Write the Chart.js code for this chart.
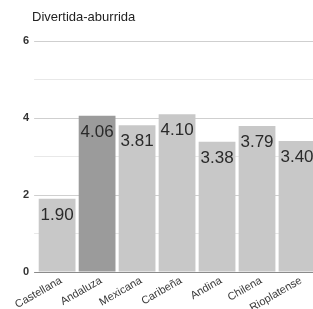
<!DOCTYPE html>
<html>
<head>
<meta charset="utf-8">
<script src="https://cdn.jsdelivr.net/npm/chart.js@4"></script>
<style>
  html, body { margin: 0; padding: 0; background: #fff; overflow: hidden; }
  #wrap { position: relative; width: 318px; height: 309px; }
  #title {
    position: absolute; left: 32px; top: 9px;
    font: 13px "Liberation Sans", Arial, sans-serif; color: #222;
  }
</style>
</head>
<body>
<div id="wrap">
  <div id="title">Divertida-aburrida</div>
  <canvas id="chart" width="318" height="309"></canvas>
</div>
<script>
// categories and values
const categories = ['Castellana', 'Andaluza', 'Mexicana', 'Caribeña', 'Andina', 'Chilena', 'Rioplatense'];
const values = [1.90, 4.06, 3.81, 4.10, 3.38, 3.79, 3.40];
const yTickLabels = [0, 2, 4, 6];

const barColors = categories.map(c => c === 'Andaluza' ? '#9b9b9b' : '#c8c8c8');

// draws the value at the top of each bar
const valueLabels = {
    id: 'valueLabels',
    afterDatasetsDraw(chart) {
        const ctx = chart.ctx;
        const meta = chart.getDatasetMeta(0);
        ctx.save();
        ctx.font = '17px "Liberation Sans", Arial, sans-serif';
        ctx.fillStyle = '#2a2a2a';
        ctx.textAlign = 'center';
        ctx.textBaseline = 'alphabetic';
        meta.data.forEach((bar, i) => {
            ctx.fillText(values[i].toFixed(2), bar.x, bar.y + 21);
        });
        ctx.restore();
    }
};

new Chart(document.getElementById('chart'), {
    type: 'bar',
    data: {
        labels: categories,
        datasets: [{
            data: values,
            backgroundColor: barColors,
            borderWidth: 0,
            barPercentage: 0.92,
            categoryPercentage: 1.0
        }]
    },
    options: {
        responsive: false,
        animation: false,
        layout: { padding: { left: 18, right: 1, top: 41, bottom: 0 } },
        plugins: {
            legend: { display: false },
            tooltip: { enabled: false },
            title: { display: false }
        },
        scales: {
            x: {
                grid: { display: false, drawTicks: false, tickLength: 0 },
                border: { display: false },
                afterFit: scale => { scale.height = 37; },
                ticks: {
                    color: '#3a3a3a',
                    font: { family: '"Liberation Sans", Arial, sans-serif', size: 11 },
                    minRotation: 30,
                    maxRotation: 30,
                    padding: 2,
                    labelOffset: 4,
                    autoSkip: false
                }
            },
            y: {
                min: 0,
                max: 6,
                border: { display: false },
                grid: {
                    tickLength: 3,
                    color: ctx => {
                        const v = ctx.tick ? ctx.tick.value : 0;
                        if (v === 0) return '#8a8a8a';
                        return yTickLabels.includes(v) ? '#cfcfcf' : '#e8e8e8';
                    },
                    lineWidth: 1
                },
                ticks: {
                    stepSize: 1,
                    padding: 5,
                    color: '#333',
                    font: { family: '"Liberation Sans", Arial, sans-serif', size: 11, weight: 'bold' },
                    callback: v => yTickLabels.includes(v) ? String(v) : ''
                }
            }
        }
    },
    plugins: [valueLabels]
});
</script>
</body>
</html>
